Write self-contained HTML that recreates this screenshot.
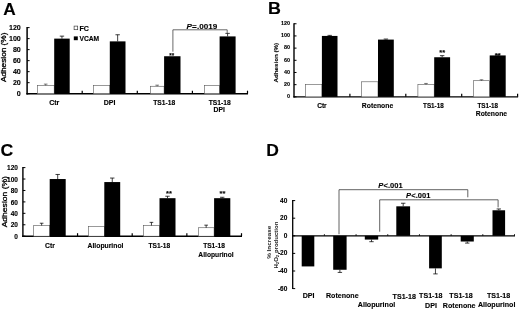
<!DOCTYPE html>
<html><head><meta charset="utf-8"><title>Figure</title>
<style>
html,body{margin:0;padding:0;background:#fff;}
body{width:520px;height:309px;overflow:hidden;font-family:"Liberation Sans",sans-serif;}
svg{display:block;font-family:"Liberation Sans",sans-serif;filter:blur(0.25px);} text{stroke:#000;stroke-width:0.12px;} text.ns{stroke:none;} text.sb{stroke-width:0.3px;}
</style></head><body>
<svg width="520" height="309" viewBox="0 0 520 309">
<rect width="520" height="309" fill="#fff"/>
<text transform="translate(3.20,14.60) scale(1.08,1)" font-size="16" font-weight="bold" fill="#000">A</text>
<line x1="27.10" y1="27.10" x2="27.10" y2="94.45" stroke="#000" stroke-width="1.5" />
<line x1="26.35" y1="93.70" x2="248.00" y2="93.70" stroke="#000" stroke-width="1.5" />
<line x1="27.10" y1="93.70" x2="29.60" y2="93.70" stroke="#000" stroke-width="1.0" />
<text x="20.80" y="96.26" font-size="7.1" font-weight="bold" text-anchor="end" fill="#000" >0</text>
<line x1="27.10" y1="82.68" x2="29.60" y2="82.68" stroke="#000" stroke-width="1.0" />
<text x="20.80" y="85.24" font-size="7.1" font-weight="bold" text-anchor="end" fill="#000" >20</text>
<line x1="27.10" y1="71.67" x2="29.60" y2="71.67" stroke="#000" stroke-width="1.0" />
<text x="20.80" y="74.22" font-size="7.1" font-weight="bold" text-anchor="end" fill="#000" >40</text>
<line x1="27.10" y1="60.65" x2="29.60" y2="60.65" stroke="#000" stroke-width="1.0" />
<text x="20.80" y="63.21" font-size="7.1" font-weight="bold" text-anchor="end" fill="#000" >60</text>
<line x1="27.10" y1="49.63" x2="29.60" y2="49.63" stroke="#000" stroke-width="1.0" />
<text x="20.80" y="52.19" font-size="7.1" font-weight="bold" text-anchor="end" fill="#000" >80</text>
<line x1="27.10" y1="38.62" x2="29.60" y2="38.62" stroke="#000" stroke-width="1.0" />
<text x="20.80" y="41.17" font-size="7.1" font-weight="bold" text-anchor="end" fill="#000" >100</text>
<line x1="27.10" y1="27.60" x2="29.60" y2="27.60" stroke="#000" stroke-width="1.0" />
<text x="20.80" y="30.16" font-size="7.1" font-weight="bold" text-anchor="end" fill="#000" >120</text>
<line x1="82.20" y1="93.70" x2="82.20" y2="90.70" stroke="#000" stroke-width="1.2" />
<line x1="137.30" y1="93.70" x2="137.30" y2="90.70" stroke="#000" stroke-width="1.2" />
<line x1="192.40" y1="93.70" x2="192.40" y2="90.70" stroke="#000" stroke-width="1.2" />
<line x1="247.50" y1="93.70" x2="247.50" y2="90.70" stroke="#000" stroke-width="1.2" />
<rect x="37.30" y="85.44" width="16.90" height="8.26" fill="#fff" stroke="#555" stroke-width="0.6"/>
<rect x="54.20" y="38.62" width="15.50" height="55.08" fill="#000"/>
<line x1="45.70" y1="85.44" x2="45.70" y2="84.12" stroke="#333" stroke-width="0.65" />
<line x1="43.90" y1="84.12" x2="47.50" y2="84.12" stroke="#333" stroke-width="0.65" />
<line x1="61.95" y1="38.62" x2="61.95" y2="36.14" stroke="#000" stroke-width="0.75" />
<line x1="59.75" y1="36.14" x2="64.15" y2="36.14" stroke="#000" stroke-width="0.75" />
<rect x="93.50" y="85.44" width="16.30" height="8.26" fill="#fff" stroke="#555" stroke-width="0.6"/>
<rect x="109.80" y="41.37" width="15.70" height="52.33" fill="#000"/>
<line x1="117.65" y1="41.37" x2="117.65" y2="34.76" stroke="#000" stroke-width="0.75" />
<line x1="115.45" y1="34.76" x2="119.85" y2="34.76" stroke="#000" stroke-width="0.75" />
<rect x="150.30" y="86.26" width="13.80" height="7.44" fill="#fff" stroke="#555" stroke-width="0.6"/>
<rect x="164.10" y="56.24" width="16.40" height="37.46" fill="#000"/>
<line x1="157.15" y1="86.26" x2="157.15" y2="85.16" stroke="#333" stroke-width="0.65" />
<line x1="155.35" y1="85.16" x2="158.95" y2="85.16" stroke="#333" stroke-width="0.65" />
<rect x="204.60" y="85.44" width="15.00" height="8.26" fill="#fff" stroke="#555" stroke-width="0.6"/>
<rect x="219.60" y="36.41" width="16.00" height="57.29" fill="#000"/>
<line x1="227.60" y1="36.41" x2="227.60" y2="33.38" stroke="#000" stroke-width="0.75" />
<line x1="225.40" y1="33.38" x2="229.80" y2="33.38" stroke="#000" stroke-width="0.75" />
<text x="54.30" y="104.80" font-size="7.0" font-weight="bold" text-anchor="middle" fill="#000" >Ctr</text>
<text x="109.50" y="104.80" font-size="7.0" font-weight="bold" text-anchor="middle" fill="#000" >DPI</text>
<text x="164.20" y="104.80" font-size="6.7" font-weight="bold" text-anchor="middle" fill="#000" >TS1-18</text>
<text x="219.70" y="104.80" font-size="6.7" font-weight="bold" text-anchor="middle" fill="#000" >TS1-18</text>
<text x="219.20" y="111.70" font-size="6.8" font-weight="bold" text-anchor="middle" fill="#000" >DPI</text>
<text class="sb" transform="translate(6.00,57.30) rotate(-90) scale(1.1,1)" font-size="7.5" font-weight="normal" text-anchor="middle" fill="#000" >Adhesion (%)</text>
<rect x="74.10" y="26.10" width="3.60" height="3.60" fill="#fff" stroke="#333" stroke-width="0.65"/>
<text x="79.50" y="30.50" font-size="7.1" font-weight="bold" text-anchor="start" fill="#000" >FC</text>
<rect x="73.80" y="36.40" width="4.00" height="3.80" fill="#000"/>
<text x="79.50" y="40.90" font-size="6.7" font-weight="bold" text-anchor="start" fill="#000" >VCAM</text>
<path d="M172.9 51.7 V29.8 H227.2 V33.5" fill="none" stroke="#444" stroke-width="0.8"/>
<text x="171.70" y="57.60" font-size="6.3" font-weight="bold" text-anchor="middle" fill="#000" >**</text>
<text x="186.5" y="28.8" font-size="8.1" font-weight="bold" fill="#000"><tspan font-style="italic">P</tspan><tspan dx="0.2">=</tspan><tspan dx="0.2">.0019</tspan></text>
<text transform="translate(268.00,13.80) scale(1.04,1)" font-size="17.2" font-weight="bold" fill="#000">B</text>
<line x1="294.00" y1="23.25" x2="294.00" y2="97.55" stroke="#000" stroke-width="1.4" />
<line x1="293.30" y1="96.85" x2="518.10" y2="96.85" stroke="#000" stroke-width="1.4" />
<line x1="294.00" y1="96.85" x2="296.50" y2="96.85" stroke="#000" stroke-width="1.0" />
<text x="290.00" y="98.09" font-size="5.4" font-weight="bold" text-anchor="end" fill="#000" >0</text>
<line x1="294.00" y1="84.67" x2="296.50" y2="84.67" stroke="#000" stroke-width="1.0" />
<text x="290.00" y="85.91" font-size="5.4" font-weight="bold" text-anchor="end" fill="#000" >20</text>
<line x1="294.00" y1="72.48" x2="296.50" y2="72.48" stroke="#000" stroke-width="1.0" />
<text x="290.00" y="73.73" font-size="5.4" font-weight="bold" text-anchor="end" fill="#000" >40</text>
<line x1="294.00" y1="60.30" x2="296.50" y2="60.30" stroke="#000" stroke-width="1.0" />
<text x="290.00" y="61.54" font-size="5.4" font-weight="bold" text-anchor="end" fill="#000" >60</text>
<line x1="294.00" y1="48.12" x2="296.50" y2="48.12" stroke="#000" stroke-width="1.0" />
<text x="290.00" y="49.36" font-size="5.4" font-weight="bold" text-anchor="end" fill="#000" >80</text>
<line x1="294.00" y1="35.93" x2="296.50" y2="35.93" stroke="#000" stroke-width="1.0" />
<text x="290.00" y="37.18" font-size="5.4" font-weight="bold" text-anchor="end" fill="#000" >100</text>
<line x1="294.00" y1="23.75" x2="296.50" y2="23.75" stroke="#000" stroke-width="1.0" />
<text x="290.00" y="24.99" font-size="5.4" font-weight="bold" text-anchor="end" fill="#000" >120</text>
<line x1="349.90" y1="96.85" x2="349.90" y2="93.85" stroke="#000" stroke-width="1.2" />
<line x1="405.80" y1="96.85" x2="405.80" y2="93.85" stroke="#000" stroke-width="1.2" />
<line x1="461.70" y1="96.85" x2="461.70" y2="93.85" stroke="#000" stroke-width="1.2" />
<line x1="517.60" y1="96.85" x2="517.60" y2="93.85" stroke="#000" stroke-width="1.2" />
<rect x="305.60" y="84.36" width="16.30" height="12.49" fill="#fff" stroke="#555" stroke-width="0.6"/>
<rect x="321.90" y="35.93" width="15.60" height="60.92" fill="#000"/>
<line x1="329.70" y1="35.93" x2="329.70" y2="35.39" stroke="#000" stroke-width="0.75" />
<line x1="327.50" y1="35.39" x2="331.90" y2="35.39" stroke="#000" stroke-width="0.75" />
<rect x="361.60" y="81.80" width="16.40" height="15.05" fill="#fff" stroke="#555" stroke-width="0.6"/>
<rect x="378.00" y="39.59" width="15.80" height="57.26" fill="#000"/>
<line x1="385.90" y1="39.59" x2="385.90" y2="39.04" stroke="#000" stroke-width="0.75" />
<line x1="383.70" y1="39.04" x2="388.10" y2="39.04" stroke="#000" stroke-width="0.75" />
<rect x="417.90" y="84.67" width="16.30" height="12.18" fill="#fff" stroke="#555" stroke-width="0.6"/>
<rect x="434.20" y="57.25" width="15.90" height="39.60" fill="#000"/>
<line x1="426.00" y1="84.67" x2="426.00" y2="83.45" stroke="#333" stroke-width="0.65" />
<line x1="424.20" y1="83.45" x2="427.80" y2="83.45" stroke="#333" stroke-width="0.65" />
<line x1="442.15" y1="57.25" x2="442.15" y2="55.67" stroke="#000" stroke-width="0.75" />
<line x1="439.95" y1="55.67" x2="444.35" y2="55.67" stroke="#000" stroke-width="0.75" />
<text x="442.15" y="55.40" font-size="7.5" font-weight="bold" text-anchor="middle" fill="#000" >**</text>
<rect x="473.40" y="80.71" width="16.30" height="16.14" fill="#fff" stroke="#555" stroke-width="0.6"/>
<rect x="489.70" y="55.43" width="16.00" height="41.42" fill="#000"/>
<line x1="481.50" y1="80.71" x2="481.50" y2="79.79" stroke="#333" stroke-width="0.65" />
<line x1="479.70" y1="79.79" x2="483.30" y2="79.79" stroke="#333" stroke-width="0.65" />
<line x1="497.70" y1="55.43" x2="497.70" y2="54.82" stroke="#000" stroke-width="0.75" />
<line x1="495.50" y1="54.82" x2="499.90" y2="54.82" stroke="#000" stroke-width="0.75" />
<text x="497.70" y="57.60" font-size="7.5" font-weight="bold" text-anchor="middle" fill="#000" >**</text>
<text x="321.90" y="107.60" font-size="6.6" font-weight="bold" text-anchor="middle" fill="#000" >Ctr</text>
<text x="377.50" y="107.60" font-size="6.8" font-weight="bold" text-anchor="middle" fill="#000" >Rotenone</text>
<text x="433.40" y="107.60" font-size="6.3" font-weight="bold" text-anchor="middle" fill="#000" >TS1-18</text>
<text x="487.80" y="107.60" font-size="6.3" font-weight="bold" text-anchor="middle" fill="#000" >TS1-18</text>
<text x="491.40" y="116.00" font-size="6.8" font-weight="bold" text-anchor="middle" fill="#000" >Rotenone</text>
<text transform="translate(277.90,62.70) rotate(-90) scale(1,1)" font-size="6.2" font-weight="bold" text-anchor="middle" fill="#000" >Adhesion (%)</text>
<text transform="translate(0.50,156.10) scale(1.03,1)" font-size="17.2" font-weight="bold" fill="#000">C</text>
<line x1="22.90" y1="167.10" x2="22.90" y2="236.90" stroke="#000" stroke-width="1.4" />
<line x1="22.20" y1="236.20" x2="242.00" y2="236.20" stroke="#000" stroke-width="1.4" />
<line x1="22.90" y1="236.20" x2="25.40" y2="236.20" stroke="#000" stroke-width="1.0" />
<text x="17.90" y="238.89" font-size="6.5" font-weight="bold" text-anchor="end" fill="#000" >0</text>
<line x1="22.90" y1="224.77" x2="25.40" y2="224.77" stroke="#000" stroke-width="1.0" />
<text x="17.90" y="227.46" font-size="6.5" font-weight="bold" text-anchor="end" fill="#000" >20</text>
<line x1="22.90" y1="213.33" x2="25.40" y2="213.33" stroke="#000" stroke-width="1.0" />
<text x="17.90" y="216.02" font-size="6.5" font-weight="bold" text-anchor="end" fill="#000" >40</text>
<line x1="22.90" y1="201.90" x2="25.40" y2="201.90" stroke="#000" stroke-width="1.0" />
<text x="17.90" y="204.59" font-size="6.5" font-weight="bold" text-anchor="end" fill="#000" >60</text>
<line x1="22.90" y1="190.47" x2="25.40" y2="190.47" stroke="#000" stroke-width="1.0" />
<text x="17.90" y="193.16" font-size="6.5" font-weight="bold" text-anchor="end" fill="#000" >80</text>
<line x1="22.90" y1="179.03" x2="25.40" y2="179.03" stroke="#000" stroke-width="1.0" />
<text x="17.90" y="181.72" font-size="6.5" font-weight="bold" text-anchor="end" fill="#000" >100</text>
<line x1="22.90" y1="167.60" x2="25.40" y2="167.60" stroke="#000" stroke-width="1.0" />
<text x="17.90" y="170.29" font-size="6.5" font-weight="bold" text-anchor="end" fill="#000" >120</text>
<line x1="77.55" y1="236.20" x2="77.55" y2="233.20" stroke="#000" stroke-width="1.2" />
<line x1="132.20" y1="236.20" x2="132.20" y2="233.20" stroke="#000" stroke-width="1.2" />
<line x1="186.85" y1="236.20" x2="186.85" y2="233.20" stroke="#000" stroke-width="1.2" />
<line x1="241.50" y1="236.20" x2="241.50" y2="233.20" stroke="#000" stroke-width="1.2" />
<rect x="33.70" y="225.51" width="16.00" height="10.69" fill="#fff" stroke="#555" stroke-width="0.6"/>
<rect x="49.70" y="179.03" width="16.00" height="57.17" fill="#000"/>
<line x1="41.65" y1="225.51" x2="41.65" y2="223.22" stroke="#000" stroke-width="0.75" />
<line x1="39.85" y1="223.22" x2="43.45" y2="223.22" stroke="#000" stroke-width="0.75" />
<line x1="57.70" y1="179.03" x2="57.70" y2="174.46" stroke="#000" stroke-width="0.75" />
<line x1="55.50" y1="174.46" x2="59.90" y2="174.46" stroke="#000" stroke-width="0.75" />
<rect x="88.50" y="226.48" width="15.80" height="9.72" fill="#fff" stroke="#555" stroke-width="0.6"/>
<rect x="104.30" y="182.06" width="15.90" height="54.14" fill="#000"/>
<line x1="112.25" y1="182.06" x2="112.25" y2="178.06" stroke="#000" stroke-width="0.75" />
<line x1="110.05" y1="178.06" x2="114.45" y2="178.06" stroke="#000" stroke-width="0.75" />
<rect x="143.50" y="225.51" width="16.00" height="10.69" fill="#fff" stroke="#555" stroke-width="0.6"/>
<rect x="159.50" y="198.18" width="16.00" height="38.02" fill="#000"/>
<line x1="151.45" y1="225.51" x2="151.45" y2="222.37" stroke="#000" stroke-width="0.75" />
<line x1="149.65" y1="222.37" x2="153.25" y2="222.37" stroke="#000" stroke-width="0.75" />
<line x1="167.50" y1="198.18" x2="167.50" y2="196.24" stroke="#000" stroke-width="0.75" />
<line x1="165.30" y1="196.24" x2="169.70" y2="196.24" stroke="#000" stroke-width="0.75" />
<text x="169.00" y="196.30" font-size="7.5" font-weight="bold" text-anchor="middle" fill="#000" >**</text>
<rect x="198.30" y="227.74" width="15.80" height="8.46" fill="#fff" stroke="#555" stroke-width="0.6"/>
<rect x="214.10" y="198.18" width="16.20" height="38.02" fill="#000"/>
<line x1="206.15" y1="227.74" x2="206.15" y2="225.17" stroke="#000" stroke-width="0.75" />
<line x1="204.35" y1="225.17" x2="207.95" y2="225.17" stroke="#000" stroke-width="0.75" />
<line x1="222.20" y1="198.18" x2="222.20" y2="197.27" stroke="#000" stroke-width="0.75" />
<line x1="220.00" y1="197.27" x2="224.40" y2="197.27" stroke="#000" stroke-width="0.75" />
<text x="222.50" y="196.20" font-size="7.5" font-weight="bold" text-anchor="middle" fill="#000" >**</text>
<text x="50.00" y="247.50" font-size="6.8" font-weight="bold" text-anchor="middle" fill="#000" >Ctr</text>
<text x="105.50" y="247.50" font-size="6.8" font-weight="bold" text-anchor="middle" fill="#000" >Allopurinol</text>
<text x="159.30" y="247.50" font-size="6.6" font-weight="bold" text-anchor="middle" fill="#000" >TS1-18</text>
<text x="214.00" y="247.50" font-size="6.6" font-weight="bold" text-anchor="middle" fill="#000" >TS1-18</text>
<text x="216.00" y="256.50" font-size="6.7" font-weight="bold" text-anchor="middle" fill="#000" >Allopurinol</text>
<text class="sb" transform="translate(6.60,201.70) rotate(-90) scale(1.11,1)" font-size="7.7" font-weight="normal" text-anchor="middle" fill="#000" >Adhesion (%)</text>
<text transform="translate(266.20,155.70) scale(1.03,1)" font-size="17" font-weight="bold" fill="#000">D</text>
<line x1="292.70" y1="200.10" x2="292.70" y2="289.10" stroke="#000" stroke-width="1.3" />
<line x1="292.05" y1="235.80" x2="515.00" y2="235.80" stroke="#000" stroke-width="1.3" />
<line x1="292.70" y1="200.60" x2="295.20" y2="200.60" stroke="#000" stroke-width="1.0" />
<text x="287.30" y="202.60" font-size="6.5" font-weight="bold" text-anchor="end" fill="#000" >40</text>
<line x1="292.70" y1="218.20" x2="295.20" y2="218.20" stroke="#000" stroke-width="1.0" />
<text x="287.30" y="220.20" font-size="6.5" font-weight="bold" text-anchor="end" fill="#000" >20</text>
<line x1="292.70" y1="235.80" x2="295.20" y2="235.80" stroke="#000" stroke-width="1.0" />
<text x="287.30" y="237.80" font-size="6.5" font-weight="bold" text-anchor="end" fill="#000" >0</text>
<line x1="292.70" y1="253.40" x2="295.20" y2="253.40" stroke="#000" stroke-width="1.0" />
<text x="287.30" y="255.40" font-size="6.5" font-weight="bold" text-anchor="end" fill="#000" >-20</text>
<line x1="292.70" y1="271.00" x2="295.20" y2="271.00" stroke="#000" stroke-width="1.0" />
<text x="287.30" y="273.00" font-size="6.5" font-weight="bold" text-anchor="end" fill="#000" >-40</text>
<line x1="292.70" y1="288.60" x2="295.20" y2="288.60" stroke="#000" stroke-width="1.0" />
<text x="287.30" y="290.60" font-size="6.5" font-weight="bold" text-anchor="end" fill="#000" >-60</text>
<line x1="324.39" y1="235.80" x2="324.39" y2="234.20" stroke="#000" stroke-width="0.9" />
<line x1="356.07" y1="235.80" x2="356.07" y2="234.20" stroke="#000" stroke-width="0.9" />
<line x1="387.76" y1="235.80" x2="387.76" y2="234.20" stroke="#000" stroke-width="0.9" />
<line x1="419.44" y1="235.80" x2="419.44" y2="234.20" stroke="#000" stroke-width="0.9" />
<line x1="451.13" y1="235.80" x2="451.13" y2="234.20" stroke="#000" stroke-width="0.9" />
<line x1="482.81" y1="235.80" x2="482.81" y2="234.20" stroke="#000" stroke-width="0.9" />
<line x1="514.50" y1="235.80" x2="514.50" y2="234.20" stroke="#000" stroke-width="0.9" />
<rect x="301.70" y="235.80" width="12.60" height="30.62" fill="#000"/>
<rect x="333.20" y="235.80" width="13.40" height="33.97" fill="#000"/>
<line x1="339.90" y1="269.77" x2="339.90" y2="272.41" stroke="#000" stroke-width="0.75" />
<line x1="337.70" y1="272.41" x2="342.10" y2="272.41" stroke="#000" stroke-width="0.75" />
<rect x="364.80" y="235.80" width="13.40" height="3.78" fill="#000"/>
<line x1="371.50" y1="239.58" x2="371.50" y2="241.70" stroke="#000" stroke-width="0.75" />
<line x1="369.30" y1="241.70" x2="373.70" y2="241.70" stroke="#000" stroke-width="0.75" />
<rect x="396.30" y="206.32" width="13.80" height="29.48" fill="#000"/>
<line x1="403.20" y1="206.32" x2="403.20" y2="203.24" stroke="#000" stroke-width="0.75" />
<line x1="401.00" y1="203.24" x2="405.40" y2="203.24" stroke="#000" stroke-width="0.75" />
<rect x="429.10" y="235.80" width="12.70" height="32.56" fill="#000"/>
<line x1="435.45" y1="268.36" x2="435.45" y2="273.90" stroke="#000" stroke-width="0.75" />
<line x1="433.25" y1="273.90" x2="437.65" y2="273.90" stroke="#000" stroke-width="0.75" />
<rect x="460.70" y="235.80" width="13.10" height="5.72" fill="#000"/>
<line x1="467.25" y1="241.52" x2="467.25" y2="243.10" stroke="#000" stroke-width="0.75" />
<line x1="465.05" y1="243.10" x2="469.45" y2="243.10" stroke="#000" stroke-width="0.75" />
<rect x="492.50" y="210.28" width="12.60" height="25.52" fill="#000"/>
<line x1="498.80" y1="210.28" x2="498.80" y2="208.96" stroke="#000" stroke-width="0.75" />
<line x1="496.60" y1="208.96" x2="501.00" y2="208.96" stroke="#000" stroke-width="0.75" />
<text x="308.60" y="298.30" font-size="7.1" font-weight="bold" text-anchor="middle" fill="#000" >DPI</text>
<text x="342.30" y="298.30" font-size="7.1" font-weight="bold" text-anchor="middle" fill="#000" >Rotenone</text>
<text x="376.50" y="307.00" font-size="7.1" font-weight="bold" text-anchor="middle" fill="#000" >Allopurinol</text>
<text x="404.20" y="299.30" font-size="7.1" font-weight="bold" text-anchor="middle" fill="#000" >TS1-18</text>
<text x="430.70" y="298.30" font-size="7.1" font-weight="bold" text-anchor="middle" fill="#000" >TS1-18</text>
<text x="431.00" y="307.70" font-size="7.1" font-weight="bold" text-anchor="middle" fill="#000" >DPI</text>
<text x="461.00" y="298.30" font-size="7.1" font-weight="bold" text-anchor="middle" fill="#000" >TS1-18</text>
<text x="459.20" y="307.70" font-size="7.1" font-weight="bold" text-anchor="middle" fill="#000" >Rotenone</text>
<text x="498.60" y="297.60" font-size="7.1" font-weight="bold" text-anchor="middle" fill="#000" >TS1-18</text>
<text x="496.70" y="307.30" font-size="7.1" font-weight="bold" text-anchor="middle" fill="#000" >Allopurinol</text>
<text transform="translate(270.70,242.30) rotate(-90) scale(1.26,1)" font-size="5.0" font-weight="bold" text-anchor="middle" fill="#222" class="ns">% Increase</text>
<text class="ns" fill="#222" transform="translate(277.5,245.1) rotate(-90) scale(1.21,1)" font-size="5.0" font-weight="bold" text-anchor="middle">H<tspan font-size="3.5" dy="1.2">2</tspan><tspan dy="-1.2">O</tspan><tspan font-size="3.5" dy="1.2">2</tspan><tspan dy="-1.2"> production</tspan></text>
<path d="M339 234.2 V189.7 H467.8 V197.3" fill="none" stroke="#3a3a3a" stroke-width="0.8"/>
<path d="M379.7 231.7 V199.8 H498.1 V207.4" fill="none" stroke="#3a3a3a" stroke-width="0.8"/>
<text x="378.2" y="188.1" font-size="7.5" font-weight="bold"><tspan font-style="italic">P</tspan><tspan dx="0.4">&lt;</tspan>.001</text>
<text x="405.9" y="197.7" font-size="7.5" font-weight="bold"><tspan font-style="italic">P</tspan><tspan dx="0.4">&lt;</tspan>.001</text>
</svg></body></html>
